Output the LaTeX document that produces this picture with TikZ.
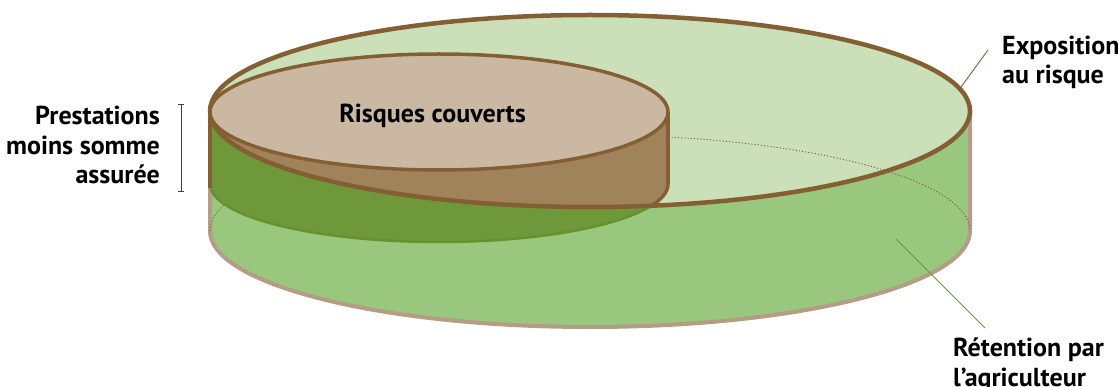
\documentclass[tikz,border=0pt]{standalone}
\usepackage{fontspec}
\setmainfont{PT Sans}
\definecolor{lightG}{HTML}{CBE0B8}
\definecolor{midG}{HTML}{98C77D}
\definecolor{darkG}{HTML}{6F983B}
\definecolor{darkGL}{HTML}{67912F}
\definecolor{brownS}{HTML}{A1835B}
\definecolor{tanT}{HTML}{CAB8A3}
\definecolor{brownL}{HTML}{845F33}
\definecolor{tanL}{HTML}{B59C85}
\definecolor{leafG}{HTML}{5E9E34}
\begin{document}
\begin{tikzpicture}[x=1pt,y=-1pt,
  lbl/.style={font=\fontsize{26}{29.5}\selectfont\bfseries, text=black, inner sep=0pt},
  bigR/.style={x radius=380,y radius=96},
  smallR/.style={x radius=229,y radius=58}]
\useasboundingbox (0,0) rectangle (1118,387);
% big cylinder side
\fill[midG] (210,111) -- (210,231) arc[start angle=180,end angle=0,bigR] -- (970,111) arc[start angle=0,end angle=180,bigR] -- cycle;
\draw[tanL,line width=4,line join=round] (210,111) -- (210,231) arc[start angle=180,end angle=0,bigR] -- (970,111);
% big top fill
\fill[lightG] (590,111) ellipse[bigR];
% hidden back edge of big bottom
\draw[brownL,line width=0.9,dash pattern=on 1.2pt off 2pt] (210,231) arc[start angle=180,end angle=360,bigR];
% small cylinder side
\fill[darkG] (210,112) -- (210,184) arc[start angle=180,end angle=0,smallR] -- (668,112) arc[start angle=0,end angle=180,smallR] -- cycle;
\draw[darkGL,line width=2.5] (210,184) arc[start angle=180,end angle=0,smallR];
\begin{scope}
\clip (590,111) ellipse[bigR];
\fill[brownS] (210,112) -- (210,184) arc[start angle=180,end angle=0,smallR] -- (668,112) arc[start angle=0,end angle=180,smallR] -- cycle;
\draw[brownL,line width=3.5,line join=round] (210,184) arc[start angle=180,end angle=0,smallR] -- (668,112);
\end{scope}
\draw[brownL,line width=3.5] (210,112) -- (210,188);
\draw[brownL,line width=3.5] (668,112) -- (668,184);
% big top outline
\draw[brownL,line width=4.5] (590,111) ellipse[bigR];
% small top
\filldraw[fill=tanT,draw=brownL,line width=3.5] (439,112) ellipse[smallR];
% labels
\node[lbl,anchor=base] (risq) at (432.5,123) {Risques couverts};
\node[lbl,anchor=base east,align=right] (prest) at (160,184) {Prestations\\moins somme\\assurée};
\node[lbl,anchor=base west,align=left] (expo) at (1002,84) {Exposition\\au risque};
\node[lbl,anchor=base west,align=left] (ret) at (953,386) {Rétention par\\l’agriculteur};
% leaders
\coordinate (ea) at (961,87);
\coordinate (eb) at (988,50);
\draw[brownL,line width=0.9] (ea) -- (eb);
\coordinate (ra) at (896,239);
\coordinate (rb) at (985,328);
\draw[leafG,line width=0.9] (ra) -- (rb);
% bracket
\coordinate (ba) at (181,104);
\coordinate (bb) at (181,191);
\draw[black!75,line width=0.9] (ba) -- (bb);
\draw[black!75,line width=0.9] ([xshift=-3pt]ba) -- ([xshift=3pt]ba);
\draw[black!75,line width=0.9] ([xshift=-3pt]bb) -- ([xshift=3pt]bb);
\end{tikzpicture}
\end{document}
